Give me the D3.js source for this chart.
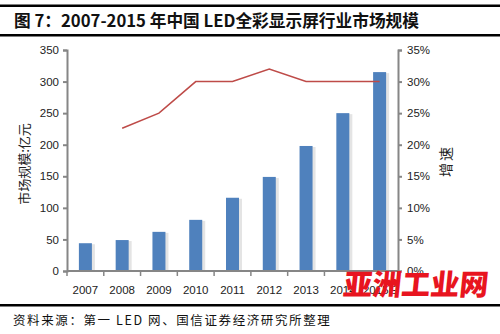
<!DOCTYPE html>
<html><head><meta charset="utf-8">
<script src="https://cdn.jsdelivr.net/npm/d3@7"></script>
<style>body{margin:0;background:#fff}</style>
</head><body>
<svg id="c" width="500" height="334"></svg>
<script>
const categories = ["2007","2008","2009","2010","2011","2012","2013","2014","2015E"];
const marketSize = [44, 49, 62, 81, 116, 149, 198, 250, 315];
const growth = [null, 22.6, 25, 30, 30, 32, 30, 30, 30];
const leftTicks = [0,50,100,150,200,250,300,350];
const rightTicks = [0,5,10,15,20,25,30,35];

const svg = d3.select("#c");
const m = {l:67, r:398, t:50, b:271};
const x = d3.scaleBand().domain(categories).range([m.l, m.r]);
const yL = d3.scaleLinear().domain([0,350]).range([m.b, m.t]);
const yR = d3.scaleLinear().domain([0,35]).range([m.b, m.t]);

// header lines
svg.append("rect").attr("x",0).attr("y",4.5).attr("width",500).attr("height",2.5).attr("fill","#000");
svg.append("rect").attr("x",0).attr("y",34).attr("width",500).attr("height",2.5).attr("fill","#000");
svg.append("rect").attr("x",0).attr("y",304).attr("width",500).attr("height",2.5).attr("fill","#000");

svg.append("text").attr("x",14).attr("y",27)
  .attr("font-family","'Noto Sans CJK SC', sans-serif").attr("font-weight","bold").attr("font-size",16.7)
  .attr("fill","#111").text("图 7：2007-2015 年中国 LED全彩显示屏行业市场规模");

svg.append("text").attr("x",13).attr("y",325)
  .attr("font-family","'Noto Sans CJK SC', sans-serif").attr("font-size",12.5).attr("letter-spacing",1.6)
  .attr("fill","#111").text("资料来源：第一 LED 网、国信证券经济研究所整理");

const bw = 13;
// bar shadows
svg.append("g").selectAll("rect").data(marketSize).join("rect")
  .attr("x",(d,i)=>x(categories[i]) + x.bandwidth()/2 - bw/2 + 2)
  .attr("y",d=>yL(d)+1).attr("width",bw+1).attr("height",d=>m.b - yL(d) - 1)
  .attr("fill","#d9d9d9").attr("opacity",0.7);
svg.append("g").selectAll("rect").data(marketSize).join("rect")
  .attr("x",(d,i)=>x(categories[i]) + x.bandwidth()/2 - bw/2)
  .attr("y",d=>yL(d)).attr("width",bw).attr("height",d=>m.b - yL(d))
  .attr("fill","#4F81BD");

// line
const line = d3.line().defined(d=>d!=null)
  .x((d,i)=>x(categories[i]) + x.bandwidth()/2).y(d=>yR(d));
svg.append("path").datum(growth).attr("d",line)
  .attr("fill","none").attr("stroke","#BE4B48").attr("stroke-width",1.5);

const axisColor = "#868686";
const font = "'Liberation Sans', Arial, sans-serif";
function style(g){
  g.selectAll("path,line").attr("stroke",axisColor).attr("stroke-width",2);
  g.selectAll("text").attr("font-family",font).attr("font-size",11.5).attr("fill","#222");
}
svg.append("g").attr("transform",`translate(${m.l},0)`)
  .call(d3.axisLeft(yL).tickValues(leftTicks).tickSize(4).tickSizeOuter(4).tickPadding(4))
  .call(style);
svg.append("g").attr("transform",`translate(${m.r},0)`)
  .call(d3.axisRight(yR).tickValues(rightTicks).tickSize(4).tickSizeOuter(4).tickPadding(5).tickFormat(d=>d+"%"))
  .call(style);

// x axis
const gx = svg.append("g").attr("transform",`translate(0,${m.b})`);
gx.append("line").attr("x1",m.l).attr("x2",m.r).attr("stroke",axisColor).attr("stroke-width",2);
const bounds = categories.map(c=>x(c)).concat([m.r]);
gx.selectAll("line.t").data(bounds).join("line").attr("class","t")
  .attr("x1",d=>d).attr("x2",d=>d).attr("y1",0).attr("y2",5)
  .attr("stroke",axisColor).attr("stroke-width",1.5);
gx.selectAll("text").data(categories).join("text")
  .attr("x",d=>x(d)+x.bandwidth()/2).attr("y",23).attr("text-anchor","middle")
  .attr("font-family",font).attr("font-size",11.5).attr("fill","#222").text(d=>d);

// axis titles
svg.append("text").attr("transform","translate(29,164) rotate(-90)").attr("text-anchor","middle")
  .attr("font-family","'Noto Sans CJK SC', sans-serif").attr("font-size",13).attr("fill","#222")
  .text("市场规模:亿元");
svg.append("text").attr("transform","translate(451,161) rotate(-90)").attr("text-anchor","middle")
  .attr("font-family","'Noto Sans CJK SC', sans-serif").attr("font-size",14).attr("letter-spacing",2).attr("fill","#222")
  .text("增速");

// watermark
svg.append("text").attr("x",414).attr("y",295).attr("text-anchor","middle")
  .attr("font-family","'Noto Sans CJK SC', sans-serif").attr("font-weight","900").attr("font-size",29)
  .attr("fill","#e8151f").attr("transform","skewX(-6) translate(32,0)").text("亚洲工业网");
</script>
</body></html>
